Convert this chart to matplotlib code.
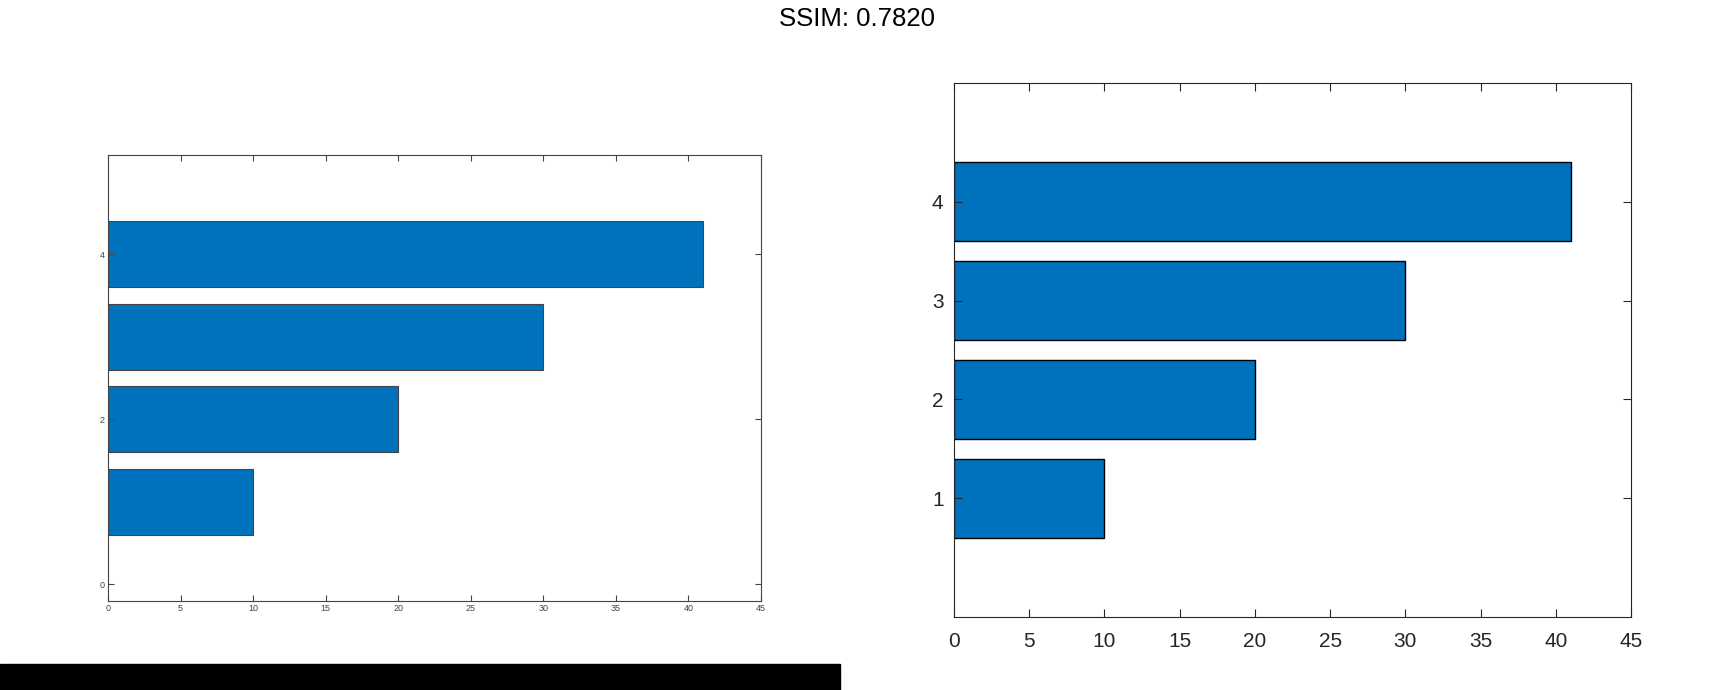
import matplotlib.pyplot as plt
from matplotlib.patches import Rectangle

plt.rcParams['font.family'] = ['Liberation Sans', 'DejaVu Sans']

# data
positions = [1, 2, 3, 4]
values = [10, 20, 30, 41]
xticks = [0, 5, 10, 15, 20, 25, 30, 35, 40, 45]
left_yticks = [0, 2, 4]
right_yticks = [1, 2, 3, 4]

bar_color = '#0072BD'
axis_color = '#262626'

fig = plt.figure(figsize=(17.15, 6.9), dpi=100)
W, H = 1715, 690

def style_axes(ax, fs, col):
    ax.set_xlim(0, 45)
    ax.set_ylim(-0.2, 5.2)
    ax.set_xticks(xticks)
    ax.tick_params(direction='in', top=True, right=True, length=5,
                   width=0.8, colors=col, labelsize=fs)
    for s in ax.spines.values():
        s.set_color(col)
        s.set_linewidth(0.8)

# left panel (small fonts)
ax1 = fig.add_axes([108 / W, 1 - 601 / H, (761 - 108) / W, (601 - 155) / H])
ax1.barh(positions, values, height=0.8, color=bar_color, edgecolor='#444444', linewidth=0.8)
style_axes(ax1, 6.5, '#444444')
ax1.set_yticks(left_yticks)
ax1.tick_params(length=4, pad=2.5)

# right panel
ax2 = fig.add_axes([954 / W, 1 - 617 / H, (1631 - 954) / W, (617 - 83) / H])
ax2.barh(positions, values, height=0.8, color=bar_color, edgecolor='black', linewidth=1.0)
style_axes(ax2, 15, axis_color)
ax2.set_yticks(right_yticks)
ax2.tick_params(length=6)
ax2.tick_params(axis='x', pad=11)
ax2.tick_params(axis='y', pad=7.5)

fig.suptitle('SSIM: 0.7820', y=0.99, fontsize=18.5)

# black strip at the bottom left
fig.patches.append(Rectangle((0, 0), 840 / W, 26 / H, transform=fig.transFigure,
                             color='black', zorder=10))

plt.savefig('out.png', dpi=100)
